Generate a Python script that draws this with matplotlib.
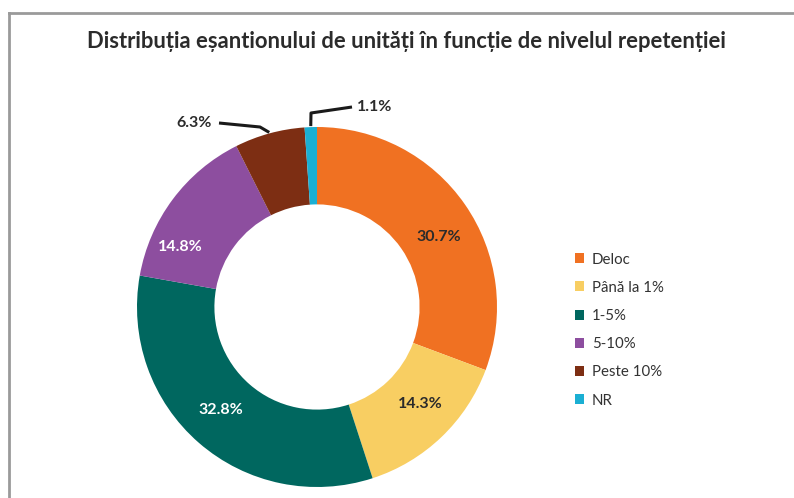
import numpy as np
import matplotlib
matplotlib.use("Agg")
import matplotlib.pyplot as plt
from matplotlib.patches import Patch
from matplotlib.lines import Line2D

# data
categories = ["Deloc", "Până la 1%", "1-5%", "5-10%", "Peste 10%", "NR"]
shares = [30.7, 14.3, 32.8, 14.8, 6.3, 1.1]
colors = ["#F07122", "#F8CE62", "#00675F", "#8D4E9F", "#7D2E13", "#1BAFD3"]
title = "Distribuția eșantionului de unități în funcție de nivelul repetenției"

plt.rcParams['font.family'] = ['Lato', 'DejaVu Sans']

W, H = 794, 498
fig = plt.figure(figsize=(W / 100, H / 100), dpi=100)
ax = fig.add_axes([0, 0, 1, 1])

cx, cy, R = 317, H - 307, 180
wedges, _ = ax.pie(shares, colors=colors, startangle=90, counterclock=False,
                   center=(cx, cy), radius=R,
                   wedgeprops=dict(width=R * 0.43, linewidth=0))
ax.set_xlim(0, W)
ax.set_ylim(0, H)
ax.set_aspect('equal')
ax.axis('off')

# inside labels: (angle tweak in degrees, radius fraction, colour)
inside = {0: (-5, 0.78, "#2b2b2b"), 1: (3, 0.79, "#2b2b2b"),
          2: (-2, 0.78, "white"), 3: (13, 0.83, "white")}
for i, (dth, rf, col) in inside.items():
    w = wedges[i]
    th = np.deg2rad((w.theta1 + w.theta2) / 2 + dth)
    ax.text(cx + rf * R * np.cos(th), cy + rf * R * np.sin(th), f"{shares[i]}%",
            ha='center', va='center', fontsize=11.5, fontweight='bold', color=col)

# outside labels with leader lines
for i, (tx, ty, elbow) in {4: (-105, 184, (-57, 180)), 5: (40, 200, (-6, 194))}.items():
    w = wedges[i]
    th = np.deg2rad((w.theta1 + w.theta2) / 2)
    px, py = cx + (R + 1) * np.cos(th), cy + (R + 1) * np.sin(th)
    ex, ey = cx + elbow[0], cy + elbow[1]
    lx, ly = cx + tx, cy + ty
    ha = 'right' if tx < 0 else 'left'
    ax.plot([px, ex, lx + (7 if tx < 0 else -5)], [py, ey, ly], color="#1a1a1a", lw=2.2,
            solid_capstyle='butt')
    ax.text(lx, ly, f"{shares[i]}%", ha=ha, va='center', fontsize=11.5,
            fontweight='bold', color="#2b2b2b")

# legend
handles = [Patch(facecolor=c, edgecolor='none') for c in colors]
fig.legend(handles, categories, loc='upper left', bbox_to_anchor=(561 / W, 1 - 239 / H),
           frameon=False, fontsize=10.8, handlelength=0.65, handleheight=0.65,
           handletextpad=0.5, labelspacing=0.95, labelcolor="#333333")

fig.text(406 / W, 1 - 42 / H, title, ha='center', va='center',
         fontsize=15.8, fontweight='bold', color="#2b2b2b")

# grey frame (top and left edges visible)
fig.add_artist(Line2D([9 / W, 1], [1 - 13 / H, 1 - 13 / H], color="#9a9a9a", lw=2,
                      transform=fig.transFigure))
fig.add_artist(Line2D([9 / W, 9 / W], [0, 1 - 13 / H], color="#9a9a9a", lw=2,
                      transform=fig.transFigure))

fig.savefig("out.png", dpi=100, facecolor='white')
